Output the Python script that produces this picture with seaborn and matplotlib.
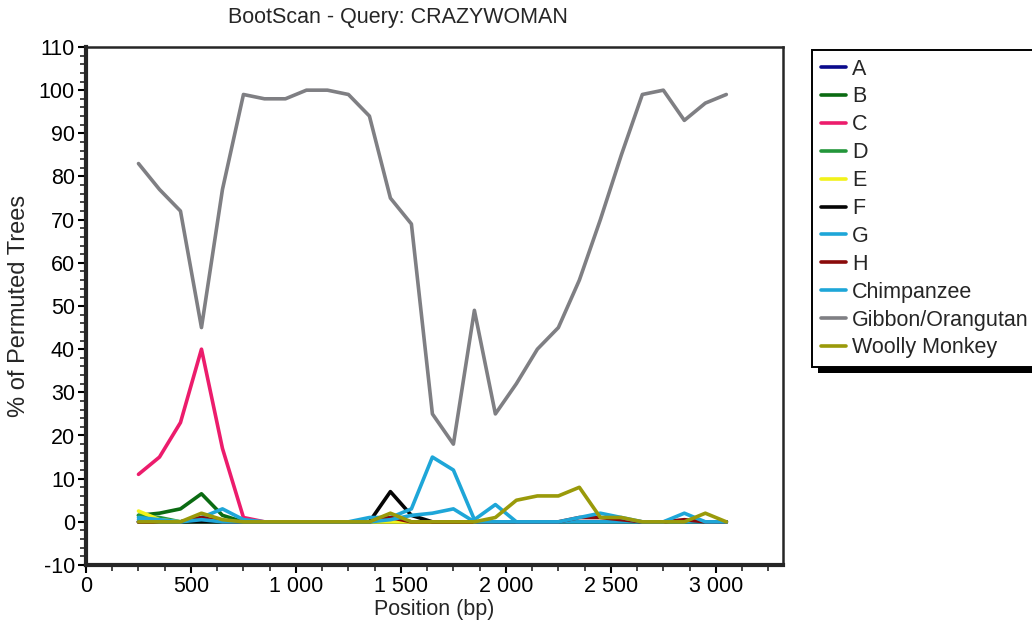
import numpy as np
import pandas as pd
import matplotlib
matplotlib.use("Agg")
import matplotlib.pyplot as plt
import seaborn as sns
from matplotlib.patches import Rectangle
from matplotlib.ticker import MultipleLocator, FuncFormatter

# window positions (bp)
positions = [250, 350, 450, 550, 650, 750, 850, 950, 1050, 1150, 1250, 1350, 1450, 1550,
             1650, 1750, 1850, 1950, 2050, 2150, 2250, 2350, 2450, 2550, 2650, 2750, 2850,
             2950, 3050]

# % of permuted trees per reference
A = [0, 0, 0, 0.5, 0, 0, 0, 0, 0, 0, 0, 0, 0, 0, 0, 0, 0, 0, 0, 0, 0, 0, 0, 0, 0, 0, 0, 0, 0]
B = [1.5, 2, 3, 6.5, 1.5, 0, 0, 0, 0, 0, 0, 0, 0, 0, 0, 0, 0, 0, 0, 0, 0, 0, 0, 0, 0, 0, 0, 0, 0]
C = [11, 15, 23, 40, 17, 1, 0, 0, 0, 0, 0, 0, 0, 0, 0, 0, 0, 0, 0, 0, 0, 0, 0, 0, 0, 0, 0, 0, 0]
D = [1.5, 1, 0, 0, 0, 0, 0, 0, 0, 0, 0, 0, 0, 0, 0, 0, 0, 0, 0, 0, 0, 0, 0, 0, 0, 0, 0, 0, 0]
E = [2.5, 0.5, 0, 1, 0, 0, 0, 0, 0, 0, 0, 0, 0, 0, 0, 0, 0, 0, 0, 0, 0, 0, 0, 0, 0, 0, 0, 0, 0]
F = [0, 0, 0, 0, 0, 0, 0, 0, 0, 0, 0, 0, 7, 1.5, 0, 0, 0, 0, 0, 0, 0, 0, 0, 0, 0, 0, 0, 0, 0]
G = [1, 0.5, 0, 1, 3, 0.5, 0, 0, 0, 0, 0, 1, 1, 3, 15, 12, 0.5, 4, 0, 0, 0, 0, 0, 0, 0, 0, 0, 0, 0]
H = [0, 0, 0, 1, 0, 0, 0, 0, 0, 0, 0, 0, 1, 0, 0, 0, 0, 0, 0, 0, 0, 1, 1, 0.5, 0, 0, 0.5, 0, 0]
chimp = [0.5, 0, 0, 0.5, 0, 0, 0, 0, 0, 0, 0, 0, 0.5, 1.5, 2, 3, 0, 0, 0, 0, 0, 1, 2, 1, 0, 0, 2, 0, 0]
gibbon = [83, 77, 72, 45, 77, 99, 98, 98, 100, 100, 99, 94, 75, 69, 25, 18, 49, 25, 32, 40,
          45, 56, 70, 85, 99, 100, 93, 97, 99]
woolly = [0, 0, 0, 2, 0.5, 0, 0, 0, 0, 0, 0, 0, 2, 0, 0, 0, 0, 1, 5, 6, 6, 8, 1, 1, 0, 0, 0, 2, 0]

series_names = ["A", "B", "C", "D", "E", "F", "G", "H", "Chimpanzee", "Gibbon/Orangutan", "Woolly Monkey"]
series_vals = [A, B, C, D, E, F, G, H, chimp, gibbon, woolly]
colors = ["#0a0a8c", "#0b6b12", "#ec1c6c", "#23963a", "#f2f21a", "#050505", "#1ea6d8",
          "#8a0a0a", "#1ea6d8", "#7f7f83", "#9a9a0a"]

df = pd.DataFrame({
    "pos": np.tile(positions, len(series_names)),
    "val": np.concatenate(series_vals),
    "series": np.repeat(series_names, len(positions)),
})

sns.set_style("ticks")
plt.rcParams["font.family"] = ["Liberation Sans", "DejaVu Sans"]
plt.rcParams["axes.unicode_minus"] = False
fs = 15.5

fig = plt.figure(figsize=(10.32, 6.31), dpi=100)
ax = fig.add_axes([86 / 1032, 1 - 565 / 631, (783 - 86) / 1032, (565 - 47) / 631])

sns.lineplot(data=df, x="pos", y="val", hue="series", hue_order=series_names,
             palette=dict(zip(series_names, colors)), linewidth=2.6, ax=ax, legend=True)

ax.set_xlim(0, 3320)
ax.set_ylim(-10, 110)
ax.xaxis.set_major_locator(MultipleLocator(500))
ax.xaxis.set_minor_locator(MultipleLocator(125))
ax.yaxis.set_major_locator(MultipleLocator(10))
ax.yaxis.set_minor_locator(MultipleLocator(2))
ax.xaxis.set_major_formatter(FuncFormatter(lambda v, p: f"{int(v):,}".replace(",", " ")))
ax.tick_params(axis="both", which="major", length=6, width=1.5, labelsize=fs, colors="black", pad=2)
ax.tick_params(axis="both", which="minor", length=4, width=1.2)

for side in ["left", "bottom"]:
    ax.spines[side].set_linewidth(3)
for side in ["top", "right"]:
    ax.spines[side].set_linewidth(1.8)
    ax.spines[side].set_visible(True)

ax.set_xlabel("Position (bp)", fontsize=fs, labelpad=1)
ax.set_ylabel("% of Permuted Trees", fontsize=fs + 1.5, labelpad=6)
fig.text(398 / 1032, 1 - 18 / 631, "BootScan - Query: CRAZYWOMAN", fontsize=fs,
         ha="center", va="center")

handles, labels = ax.get_legend_handles_labels()
ax.get_legend().remove()
leg = fig.legend(handles, labels, loc="upper left", bbox_to_anchor=(812 / 1032, 1 - 50 / 631),
                 frameon=True, fancybox=False, shadow=False, framealpha=1, facecolor="white",
                 fontsize=fs, handlelength=1.2, handletextpad=0.25, labelspacing=0.32,
                 borderaxespad=0, borderpad=0.4)
leg.get_frame().set_edgecolor("black")
leg.get_frame().set_linewidth(1.4)
leg.set_zorder(5)
for line in leg.get_lines():
    line.set_linewidth(2.6)

# drop shadow under the legend box
fig.canvas.draw()
bb = leg.get_window_extent()
W, Hh = fig.bbox.width, fig.bbox.height
shadow = Rectangle(((bb.x0 + 6) / W, (bb.y0 - 6) / Hh), bb.width / W, bb.height / Hh,
                   transform=fig.transFigure, facecolor="black", edgecolor="none", zorder=4)
fig.patches.append(shadow)

fig.savefig("out.png", dpi=100)
